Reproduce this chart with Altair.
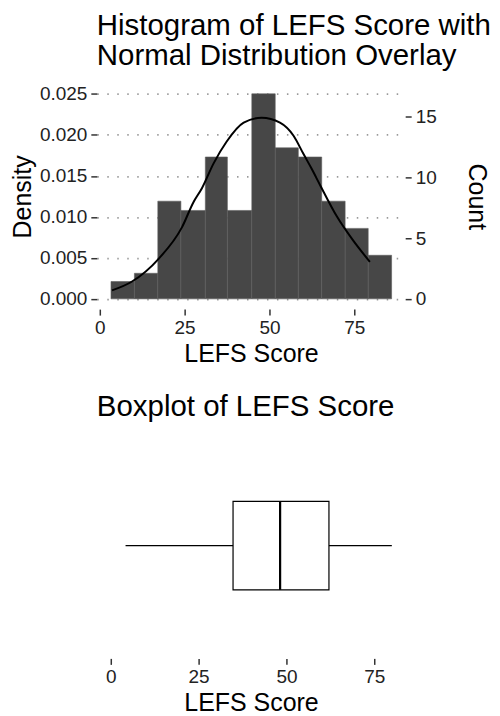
import altair as alt
import pandas as pd

# ---- histogram data ----
bin_left = [3.3, 10.2, 17.1, 23.9, 31.1, 37.6, 44.8, 51.7, 58.5, 65.4, 72.3, 79.1]
bin_right = [10.2, 17.1, 23.9, 31.1, 37.6, 44.8, 51.7, 58.5, 65.4, 72.3, 79.1, 86.0]
bin_density = [0.00212, 0.00312, 0.01192, 0.01079, 0.01731, 0.01079,
               0.02502, 0.01843, 0.01731, 0.01192, 0.00860, 0.00532]

# ---- normal curve overlay ----
curve_x = [3.6, 9.5, 17.4, 24.2, 27.6, 30.1, 33.5, 37.4, 42.4, 47.7,
           53.1, 57.1, 60.0, 62.4, 64.9, 69.8, 74.7, 79.6]
curve_density = [0.00104, 0.00212, 0.00492, 0.00872, 0.0118, 0.0135, 0.0165, 0.0192,
                 0.0215, 0.0221, 0.0215, 0.0199, 0.0177, 0.0159, 0.0139, 0.0101,
                 0.0071, 0.00452]

# ---- secondary axis ----
count_ticks = [0, 5, 10, 15]
count_per_density = 675

# ---- boxplot stats ----
box_min = [4.2]
box_q1 = [34.8]
box_median = [48.2]
box_q3 = [62.1]
box_max = [80.0]

density_ticks = [0.0, 0.005, 0.010, 0.015, 0.020, 0.025]
x_ticks = [0, 25, 50, 75]

FONT = "Liberation Sans"
BAR = "#474747"

hist_df = pd.DataFrame({"left": bin_left, "right": bin_right, "density": bin_density})
curve_df = pd.DataFrame({"x": curve_x, "density": curve_density})
count_df = pd.DataFrame({"count": count_ticks})
box_df = pd.DataFrame({"min": box_min, "q1": box_q1, "median": box_median,
                       "q3": box_q3, "max": box_max})

dens_domain = [-0.00125, 0.02627]
count_domain = [dens_domain[0] * count_per_density, dens_domain[1] * count_per_density]
x_top_domain = [-0.88, 90.0]
x_bot_domain = [-3.98, 83.8]

TOP_H = 226
BOT_H = 226

axis_common = dict(domain=False, tickColor="#333333", tickWidth=1.5, tickSize=6,
                   labelFont=FONT, labelFontSize=19, labelColor="#222222",
                   titleFont=FONT, titleFontSize=25, titleFontWeight="normal",
                   titleColor="#000000")

x_axis_top = alt.Axis(values=x_ticks, title="LEFS Score", grid=False,
                      labelPadding=3, titlePadding=4, **axis_common)

bars = alt.Chart(hist_df).mark_rect(fill=BAR, stroke="#5e5e5e", strokeWidth=0.6).encode(
    x=alt.X("left:Q", scale=alt.Scale(domain=x_top_domain, nice=False, zero=False),
            axis=x_axis_top),
    x2="right:Q",
    y=alt.Y("density:Q",
            scale=alt.Scale(domain=dens_domain, nice=False, zero=False),
            axis=alt.Axis(values=density_ticks, format=".3f", title="Density",
                          orient="left", grid=True, gridColor="#9a9a9a",
                          gridDash=[1.5, 8.5], gridWidth=1.8,
                          labelPadding=4, titlePadding=4, **axis_common)),
    y2=alt.datum(0),
)

curve = alt.Chart(curve_df).mark_line(color="black", strokeWidth=2,
                                      interpolate="monotone").encode(
    x=alt.X("x:Q", axis=x_axis_top),
    y=alt.Y("density:Q"),
)

left_layer = alt.layer(bars, curve)

right_axis = alt.Chart(count_df).mark_point(opacity=0).encode(
    x=alt.X("datum_x:Q", axis=x_axis_top),
    y=alt.Y("count:Q",
            scale=alt.Scale(domain=count_domain, nice=False, zero=False),
            axis=alt.Axis(values=count_ticks, title="Count", orient="right",
                          grid=False, labelPadding=4, titlePadding=27,
                          titleAngle=90, **axis_common)),
).transform_calculate(datum_x="40")

top = alt.layer(left_layer, right_axis).resolve_scale(y="independent").properties(
    width=309, height=TOP_H,
    title=alt.TitleParams(["Histogram of LEFS Score with", "Normal Distribution Overlay"],
                          anchor="start", frame="group", font=FONT, fontSize=29.5,
                          fontWeight="normal", color="#000000", lineHeight=30,
                          offset=12),
)

# ---- boxplot ----
x_axis_bot = alt.Axis(values=x_ticks, title="LEFS Score", grid=False,
                      labelPadding=3, titlePadding=4, **axis_common)
xb = alt.Scale(domain=x_bot_domain, nice=False, zero=False)

box_mid = BOT_H / 2
box_half = 44.3

whisker = alt.Chart(box_df).mark_rule(color="black", strokeWidth=1.2).encode(
    x=alt.X("min:Q", scale=xb, axis=x_axis_bot),
    x2="max:Q",
    y=alt.value(box_mid),
)
box = alt.Chart(box_df).mark_rect(fill="white", stroke="black", strokeWidth=1.2).encode(
    x=alt.X("q1:Q", scale=xb, axis=x_axis_bot),
    x2="q3:Q",
    y=alt.value(box_mid - box_half),
    y2=alt.value(box_mid + box_half),
)
median = alt.Chart(box_df).mark_rule(color="black", strokeWidth=2.2).encode(
    x=alt.X("median:Q", scale=xb, axis=x_axis_bot),
    y=alt.value(box_mid - box_half),
    y2=alt.value(box_mid + box_half),
)

bottom = alt.layer(whisker, box, median).properties(
    width=309, height=BOT_H,
    title=alt.TitleParams("Boxplot of LEFS Score", anchor="start", frame="group",
                          font=FONT, fontSize=29.5, fontWeight="normal",
                          color="#000000", offset=10),
)

chart = alt.vconcat(top, bottom, spacing=26).properties(
    padding={"left": 2, "top": 2, "right": 0, "bottom": 0},
    background="white",
).configure_view(stroke=None)

chart.save("out.html", embed_options={"renderer": "svg", "actions": False})
